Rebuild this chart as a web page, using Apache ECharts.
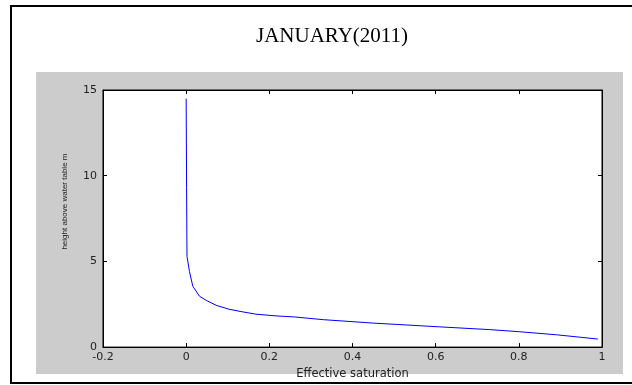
<!DOCTYPE html>
<html>
<head>
<meta charset="utf-8">
<script src="https://cdn.jsdelivr.net/npm/echarts@6/dist/echarts.min.js"></script>
<style>
  html, body { margin: 0; padding: 0; background: #fff; }
  #chart { width: 632px; height: 385px; }
</style>
</head>
<body>
<div id="chart"></div>
<script>
// Effective saturation (x) vs height above water table (y)
const saturation = [0, 0.001, 0.002, 0.008, 0.016, 0.032, 0.048, 0.072, 0.103, 0.137, 0.168, 0.216, 0.26, 0.33, 0.45, 0.61, 0.73, 0.8, 0.89, 0.99];
const height = [14.5, 9.3, 5.3, 4.4, 3.55, 2.97, 2.73, 2.44, 2.21, 2.05, 1.92, 1.82, 1.76, 1.6, 1.4, 1.18, 1.02, 0.9, 0.72, 0.47];

const xTicks = [-0.2, 0, 0.2, 0.4, 0.6, 0.8, 1];
const yTicks = [0, 5, 10, 15];

const chart = echarts.init(document.getElementById('chart'));

const labelStyle = {
  color: '#222',
  fontFamily: 'DejaVu Sans',
  fontSize: 11
};

const option = {
  backgroundColor: '#fff',
  animation: false,
  title: {
    text: 'JANUARY(2011)',
    left: 327,
    textAlign: 'center',
    top: 21,
    textStyle: {
      fontFamily: 'Liberation Serif',
      fontWeight: 'normal',
      fontSize: 21,
      color: '#000'
    }
  },
  graphic: [
    {
      type: 'rect',
      z: -10,
      silent: true,
      shape: { x: 11, y: 6, width: 640, height: 377 },
      style: { fill: '#fff', stroke: '#000', lineWidth: 2 }
    },
    {
      type: 'rect',
      z: -9,
      silent: true,
      shape: { x: 36, y: 72, width: 587, height: 302 },
      style: { fill: '#cccccc' }
    }
  ],
  grid: {
    left: 103,
    top: 90,
    right: 30,
    bottom: 37,
    show: true,
    backgroundColor: '#fff',
    borderColor: '#000',
    borderWidth: 1
  },
  xAxis: [
    {
      type: 'value',
      min: xTicks[0],
      max: xTicks[xTicks.length - 1],
      interval: 0.2,
      name: 'Effective saturation',
      nameLocation: 'middle',
      nameGap: 16,
      nameTextStyle: { color: '#222', fontFamily: 'DejaVu Sans', fontSize: 11.5 },
      axisLine: { onZero: false, lineStyle: { color: '#000' } },
      axisTick: { inside: true, length: 4, lineStyle: { color: '#000' } },
      axisLabel: {
        ...labelStyle,
        margin: 5,
        showMinLabel: true,
        showMaxLabel: true,
        formatter: v => String(Math.round(v * 10) / 10)
      },
      splitLine: { show: false }
    },
    {
      type: 'value',
      position: 'top',
      min: xTicks[0],
      max: xTicks[xTicks.length - 1],
      interval: 0.2,
      axisLine: { onZero: false, lineStyle: { color: '#000' } },
      axisTick: { inside: true, length: 4, lineStyle: { color: '#000' } },
      axisLabel: { show: false },
      splitLine: { show: false }
    }
  ],
  yAxis: [
    {
      type: 'value',
      min: yTicks[0],
      max: yTicks[yTicks.length - 1],
      interval: 5,
      name: 'height above water table m',
      nameLocation: 'middle',
      nameGap: 34,
      nameTextStyle: {
        color: '#222',
        fontFamily: 'Liberation Sans',
        fontSize: 8,
        padding: [0, 0, 0, 34]
      },
      axisLine: { onZero: false, lineStyle: { color: '#000' } },
      axisTick: { inside: true, length: 4, lineStyle: { color: '#000' } },
      axisLabel: { ...labelStyle, margin: 6 },
      splitLine: { show: false }
    },
    {
      type: 'value',
      position: 'right',
      min: yTicks[0],
      max: yTicks[yTicks.length - 1],
      interval: 5,
      axisLine: { onZero: false, lineStyle: { color: '#000' } },
      axisTick: { inside: true, length: 4, lineStyle: { color: '#000' } },
      axisLabel: { show: false },
      splitLine: { show: false }
    }
  ],
  series: [
    {
      type: 'line',
      xAxisIndex: 0,
      yAxisIndex: 0,
      data: saturation.map((s, i) => [s, height[i]]),
      showSymbol: false,
      smooth: false,
      lineStyle: { color: '#0000ff', width: 1 }
    }
  ]
};

chart.setOption(option);
</script>
</body>
</html>
